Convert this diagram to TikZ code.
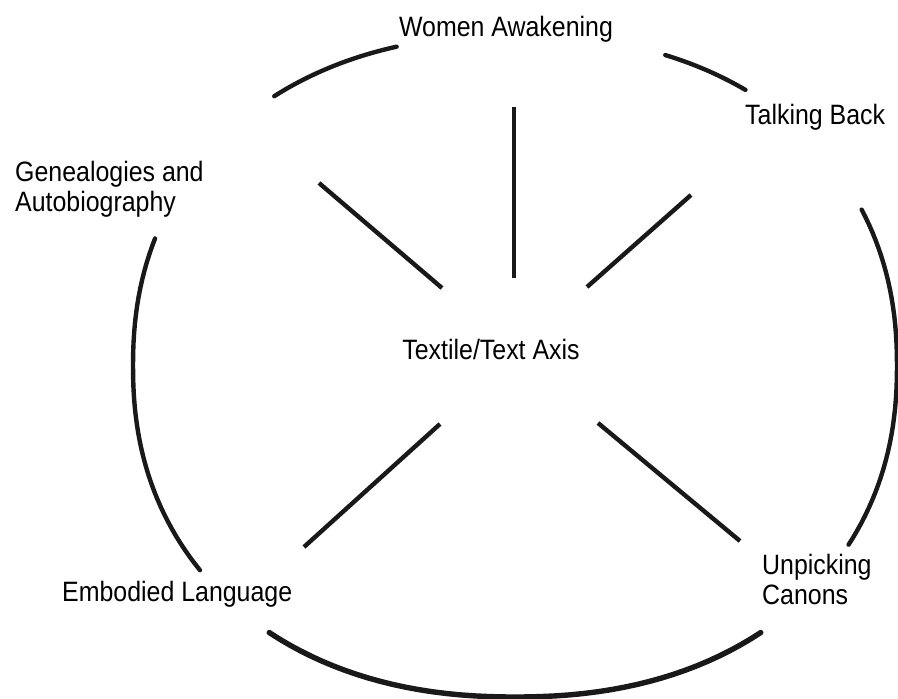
\documentclass[tikz,border=0pt]{standalone}
\usepackage{fontspec}
\setmainfont{Liberation Sans}[FakeStretch=0.89]
\usepackage{tikz}
\usetikzlibrary{calc, positioning}
\tikzset{
  ringarc/.style={line width=4.4pt, color=black!90, line cap=round},
  spoke/.style={line width=4.4pt, color=black!90},
  themelabel/.style={inner sep=0pt, align=left, text=black,
    font=\fontsize{28}{30}\selectfont}
}
% one piece of the (slightly squarish) ring, #2 to #3 degrees
\newcommand{\ringpart}[3][]{%
  \draw[ringarc, #1] plot[domain=#2:#3, samples=40, variable=\t]
    ({515+382*cos(\t)*pow(abs(cos(\t))+0.0001,-0.0909)},
     {333+331*sin(\t)*pow(abs(sin(\t))+0.0001,-0.0909)});}

\begin{document}
\begin{tikzpicture}[x=1pt, y=1pt]
  \useasboundingbox (0,0) rectangle (898,699);

  % broken ring round the axis
  \ringpart{106}{127}
  \ringpart{55}{69}
  \ringpart{-30.5}{26}
  \ringpart{159.5}{216}
  \ringpart[line width=5.4pt]{232}{308}

  % labels
  \node[themelabel, anchor=base] (women) at (506,662) {Women Awakening};
  \node[themelabel, anchor=base west] (talking) at (745,574) {Talking Back};
  \node[themelabel, anchor=west] (geneal) at (15,510) {Genealogies and\\Autobiography};
  \node[themelabel, anchor=base] (axis) at (491,339) {Textile/Text Axis};
  \node[themelabel, anchor=base west] (embodied) at (62,97) {Embodied Language};
  \node[themelabel, anchor=west] (unpick) at (762,120) {Unpicking\\Canons};

  % spokes
  \coordinate (nOut) at (514,592);  \coordinate (nIn) at (514,421);
  \coordinate (nwOut) at (319,516); \coordinate (nwIn) at (442,411);
  \coordinate (neOut) at (691,504); \coordinate (neIn) at (587,412);
  \coordinate (swIn) at (440,275);  \coordinate (swOut) at (304,152);
  \coordinate (seIn) at (598,276);  \coordinate (seOut) at (740,158);
  \draw[spoke] (nIn) -- (nOut);
  \draw[spoke] (nwIn) -- (nwOut);
  \draw[spoke] (neIn) -- (neOut);
  \draw[spoke] (swIn) -- (swOut);
  \draw[spoke] (seIn) -- (seOut);
\end{tikzpicture}
\end{document}
